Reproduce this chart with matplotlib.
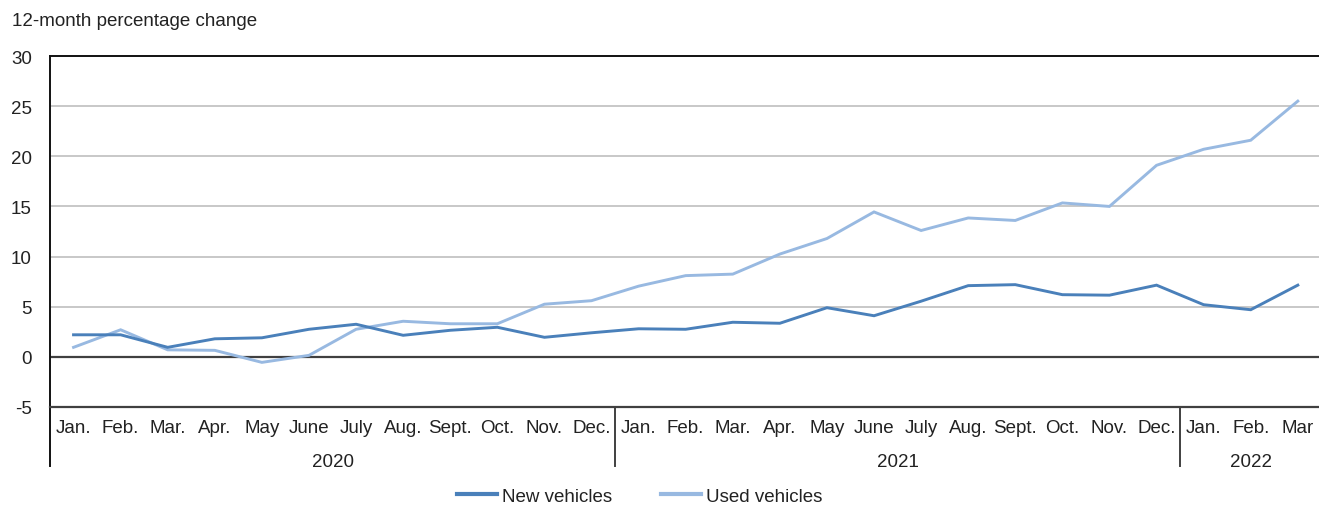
import matplotlib
matplotlib.use("Agg")
import matplotlib.pyplot as plt
from matplotlib.lines import Line2D
import matplotlib.transforms as mtransforms

plt.rcParams['font.family'] = ['Liberation Sans', 'DejaVu Sans']

months = ["Jan.", "Feb.", "Mar.", "Apr.", "May", "June", "July", "Aug.", "Sept.", "Oct.", "Nov.", "Dec.",
          "Jan.", "Feb.", "Mar.", "Apr.", "May", "June", "July", "Aug.", "Sept.", "Oct.", "Nov.", "Dec.",
          "Jan.", "Feb.", "Mar"]
years = ["2020", "2021", "2022"]
year_counts = [12, 12, 3]

new_vehicles = [2.2, 2.2, 0.95, 1.8, 1.9, 2.75, 3.25, 2.15, 2.65, 2.95, 1.95, 2.4,
                2.8, 2.75, 3.45, 3.35, 4.9, 4.1, 5.55, 7.1, 7.2, 6.2, 6.15, 7.15,
                5.2, 4.7, 7.15]
used_vehicles = [0.95, 2.7, 0.7, 0.65, -0.55, 0.15, 2.75, 3.55, 3.3, 3.3, 5.25, 5.6,
                 7.05, 8.1, 8.25, 10.25, 11.8, 14.45, 12.6, 13.85, 13.6, 15.35, 15.0, 19.1,
                 20.7, 21.6, 25.5]
yticks = [-5, 0, 5, 10, 15, 20, 25, 30]

FS = 13.5
W, H = 1319, 506
fig = plt.figure(figsize=(W / 100, H / 100), dpi=100)
left_px, right_px, top_px, bot_px = 50, 1319, 57, 408
ax = fig.add_axes([left_px / W, 1 - bot_px / H, (right_px - left_px) / W, (bot_px - top_px) / H])

x = list(range(len(months)))
c_new = '#4a80ba'
c_used = '#98b9e1'
ax.plot(x, new_vehicles, color=c_new, lw=2.1, solid_joinstyle='miter', zorder=4)
ax.plot(x, used_vehicles, color=c_used, lw=2.1, solid_joinstyle='miter', zorder=3)

ax.set_xlim(-0.5, 26.45)
ax.set_ylim(-5, 30)
ax.set_yticks(yticks)
ax.set_yticklabels([str(v) for v in yticks], fontsize=FS, color='#222222')
for v in yticks[2:-1]:
    ax.axhline(v, color='#c8c8c8', lw=1.4, zorder=1)
ax.axhline(0, color='#404040', lw=1.6, zorder=2)

ax.set_xticks(x)
ax.set_xticklabels(months, fontsize=FS, color='#222222')
ax.tick_params(axis='both', length=0)
ax.tick_params(axis='y', pad=13)
ax.tick_params(axis='x', pad=9)

ax.spines['right'].set_visible(False)
ax.spines['top'].set_color('#111111')
ax.spines['top'].set_linewidth(1.4)
ax.spines['left'].set_color('#111111')
ax.spines['left'].set_linewidth(1.4)
ax.spines['bottom'].set_color('#404040')
ax.spines['bottom'].set_linewidth(1.6)

trans = mtransforms.blended_transform_factory(ax.transData, ax.transAxes)
sep_bottom = (bot_px - 467) / (bot_px - top_px)
ax.plot([-0.5, -0.5], [0, sep_bottom], transform=trans, color='#111111', lw=1.4, clip_on=False)
start = 0
for yr, n in zip(years, year_counts):
    end = start + n
    if start > 0:
        ax.plot([start - 0.5, start - 0.5], [0, sep_bottom], transform=trans, color='#404040', lw=1.4, clip_on=False)
    ax.text((start + end - 1) / 2, (bot_px - 463) / (bot_px - top_px), yr, transform=trans,
            ha='center', va='center', fontsize=FS, color='#222222')
    start = end

fig.text(12 / W, 1 - 22 / H, "12-month percentage change", ha='left', va='center', fontsize=FS, color='#222222')

handles = [Line2D([], [], color=c_new, lw=3), Line2D([], [], color=c_used, lw=3)]
fig.legend(handles, ["New vehicles", "Used vehicles"], loc='center', bbox_to_anchor=(640 / W, 1 - 497 / H),
           ncol=2, frameon=False, fontsize=FS, handlelength=2.1, handletextpad=0.3, columnspacing=2.6,
           labelcolor='#222222', borderpad=0)

fig.savefig("out.png", dpi=100)
